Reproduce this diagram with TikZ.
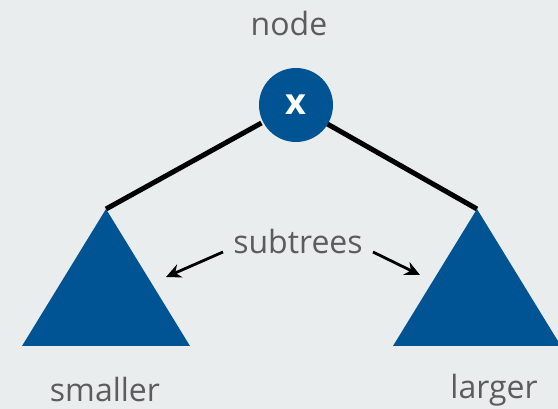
\documentclass[tikz,border=0pt]{standalone}
\usepackage{fontspec}
\setmainfont{Open Sans}
\usetikzlibrary{arrows.meta}
\definecolor{bgcol}{RGB}{233,237,238}
\definecolor{treeblue}{RGB}{0,84,147}
\definecolor{labelgray}{RGB}{92,92,92}
\tikzset{
  label text/.style={text=labelgray, font=\fontsize{32}{34}\selectfont, inner sep=0pt},
  tree link/.style={line width=5pt, black},
  subtree/.style={fill=treeblue},
  pointer/.style={line width=2.8pt, black, -{Stealth[length=15pt, width=14pt]}}
}
\begin{document}
\begin{tikzpicture}[x=1pt, y=-1pt]
  % canvas
  \fill[bgcol] (0,0) rectangle (558,409);
  \useasboundingbox (0,0) rectangle (558,409);

  % apex points of the two subtrees
  \coordinate (lapex) at (106,209);
  \coordinate (rapex) at (477,209);

  % links from the root to the subtrees
  \node[circle, minimum size=74pt, inner sep=0pt] (root) at (294,105) {};
  \draw[tree link] (root) -- (lapex);
  \draw[tree link] (root) -- (rapex);

  % root node
  \node[circle, fill=treeblue, minimum size=74pt, inner sep=0pt, text=white,
        font=\fontsize{36}{38}\bfseries] (rootfill) at (296,105) {\raisebox{1pt}{x}};

  % subtrees
  \fill[subtree] (lapex) -- (190,346) -- (22,346) -- cycle;
  \fill[subtree] (rapex) -- (561,346) -- (393,346) -- cycle;

  % labels
  \node[label text] (nodelbl) at (289,24) {node};
  \node[label text] (subtrees) at (298,242) {subtrees};
  \node[label text] (smaller) at (105,390) {smaller};
  \node[label text] (larger) at (494,390) {larger};

  % pointers from the label to each subtree
  \coordinate (lend) at (166,277);
  \coordinate (rend) at (420,275);
  \draw[pointer] (223,252) -- (lend);
  \draw[pointer] (373,252) -- (rend);
\end{tikzpicture}
\end{document}
